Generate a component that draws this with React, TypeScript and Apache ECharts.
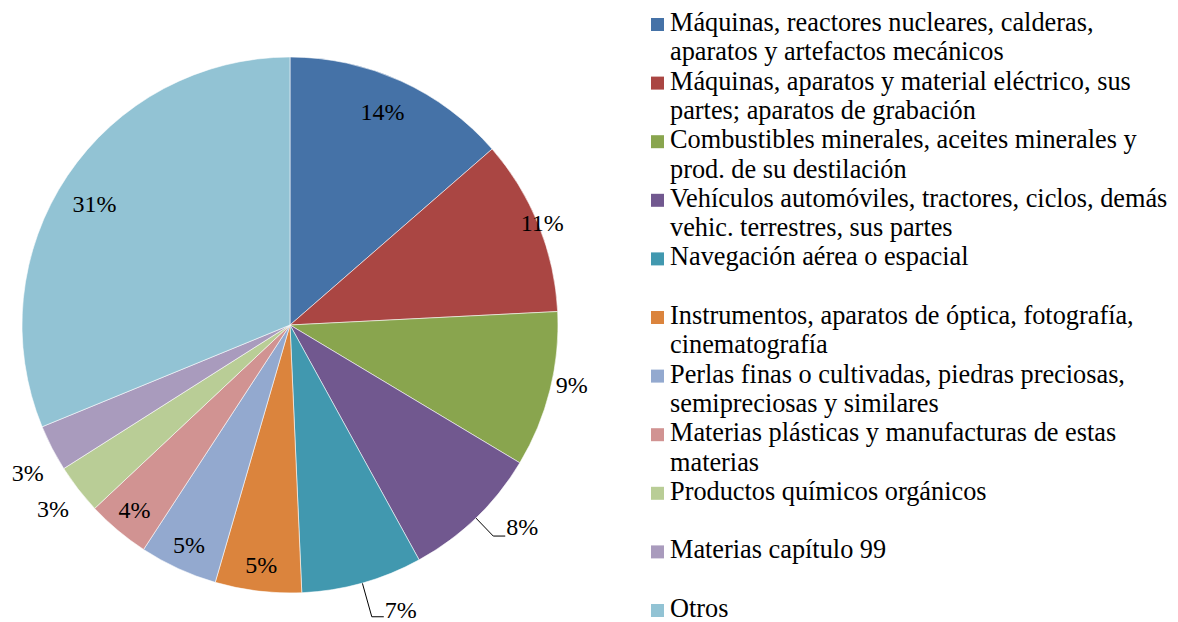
import React, { useEffect, useRef } from "react";
import * as echarts from "echarts";

const categories = [
  "Máquinas, reactores nucleares, calderas,\naparatos y artefactos mecánicos",
  "Máquinas, aparatos y material eléctrico, sus\npartes; aparatos de grabación",
  "Combustibles minerales, aceites minerales y\nprod. de su destilación",
  "Vehículos automóviles, tractores, ciclos, demás\nvehic. terrestres, sus partes",
  "Navegación aérea o espacial",
  "Instrumentos, aparatos de óptica, fotografía,\ncinematografía",
  "Perlas finas o cultivadas, piedras preciosas,\nsemipreciosas y similares",
  "Materias plásticas y manufacturas de estas\nmaterias",
  "Productos químicos orgánicos",
  "Materias capítulo 99",
  "Otros",
];

const shares = [13.6, 10.6, 9.4, 8.4, 7.3, 5.2, 4.7, 3.8, 3.0, 2.8, 31.2];

const colors = [
  "#4572A7",
  "#AA4643",
  "#89A54E",
  "#71588F",
  "#4198AF",
  "#DB843D",
  "#93A9CF",
  "#D19392",
  "#B9CD96",
  "#A99BBD",
  "#92C3D4",
];

const CX = 290;
const CY = 325;
const R = 268;
const FONT = "Liberation Serif";
const LABEL_SIZE = 24;
const LEGEND_SIZE = 26.3;

// label rings: invisible rings whose mid radius (+3px) places the label
const ringGroups = [
  { idx: [0], mid: 229, start: 91 },
  { idx: [10], mid: 227, start: 92 },
  { idx: [5, 6, 7], mid: 239, start: 90 },
  { idx: [1], mid: 269, start: 90 },
  { idx: [2], mid: 285, start: 92 },
  { idx: [8], mid: 297, start: 90 },
  { idx: [9], mid: 298, start: 92 },
];
const lineLabels: Record<number, { length: number; length2: number; lh: number }> = {
  3: { length: 25, length2: 12, lh: 18 },
  4: { length: 35, length2: 12, lh: 14 },
};

export default function App() {
  const ref = useRef<HTMLDivElement>(null);
  useEffect(() => {
    document.body.style.margin = "0";
    document.body.style.overflow = "hidden";
    const chart = echarts.init(ref.current!, null, { renderer: "svg" });
    const pct = (p: any) => Math.round(p.percent) + "%";
    const labelFont = { fontFamily: FONT, fontSize: LABEL_SIZE, color: "#000" };

    const mainData = categories.map((name, i) => ({
      name,
      value: shares[i],
      itemStyle: { color: colors[i] },
      label: lineLabels[i]
        ? { show: true, lineHeight: lineLabels[i].lh }
        : { show: false },
      labelLine: lineLabels[i]
        ? { show: true, length: lineLabels[i].length, length2: lineLabels[i].length2 }
        : { show: false },
    }));

    const overlay = ringGroups.map((g) => ({
      type: "pie",
      center: [CX, CY],
      radius: [g.mid - 20, g.mid + 20],
      startAngle: g.start,
      clockwise: true,
      silent: true,
      avoidLabelOverlap: false,
      itemStyle: { color: "rgba(0,0,0,0)", borderWidth: 0 },
      label: { show: true, position: "inside", formatter: pct, ...labelFont },
      labelLine: { show: false },
      emphasis: { disabled: true },
      tooltip: { show: false },
      data: categories.map((name, i) => ({
        name,
        value: shares[i],
        label: { show: g.idx.includes(i) },
      })),
    }));

    const LH = 29.3;
    const slotTop = (i: number) => 18 + 58.6 * i;
    const graphic: any[] = [];
    categories.forEach((name, i) => {
      graphic.push({
        type: "rect",
        silent: true,
        shape: { x: 651, y: slotTop(i), width: 13, height: 13 },
        style: { fill: colors[i] },
      });
      name.split("\n").forEach((line, j) => {
        graphic.push({
          type: "text",
          silent: true,
          x: 670,
          y: slotTop(i) + 4.5 + j * LH,
          style: {
            text: line,
            fill: "#000",
            fontFamily: FONT,
            fontSize: LEGEND_SIZE,
            align: "left",
            verticalAlign: "middle",
          },
        });
      });
    });

    chart.setOption({
      animation: false,
      backgroundColor: "#fff",
      series: [
        {
          type: "pie",
          center: [CX, CY],
          radius: [0, R],
          startAngle: 90,
          clockwise: true,
          avoidLabelOverlap: false,
          silent: true,
          itemStyle: { borderColor: "rgba(255,255,255,0.7)", borderWidth: 0.8 },
          label: {
            show: false,
            position: "outside",
            alignTo: "none",
            formatter: (p: any) => pct(p) + "\n ",
            distanceToLabelLine: 1,
            ...labelFont,
          },
          labelLine: { lineStyle: { color: "#000", width: 1 }, smooth: false },
          emphasis: { disabled: true },
          data: mainData,
        },
        ...overlay,
      ],
      graphic,
    });
    return () => chart.dispose();
  }, []);
  return <div ref={ref} style={{ width: 1178, height: 622 }} />;
}
